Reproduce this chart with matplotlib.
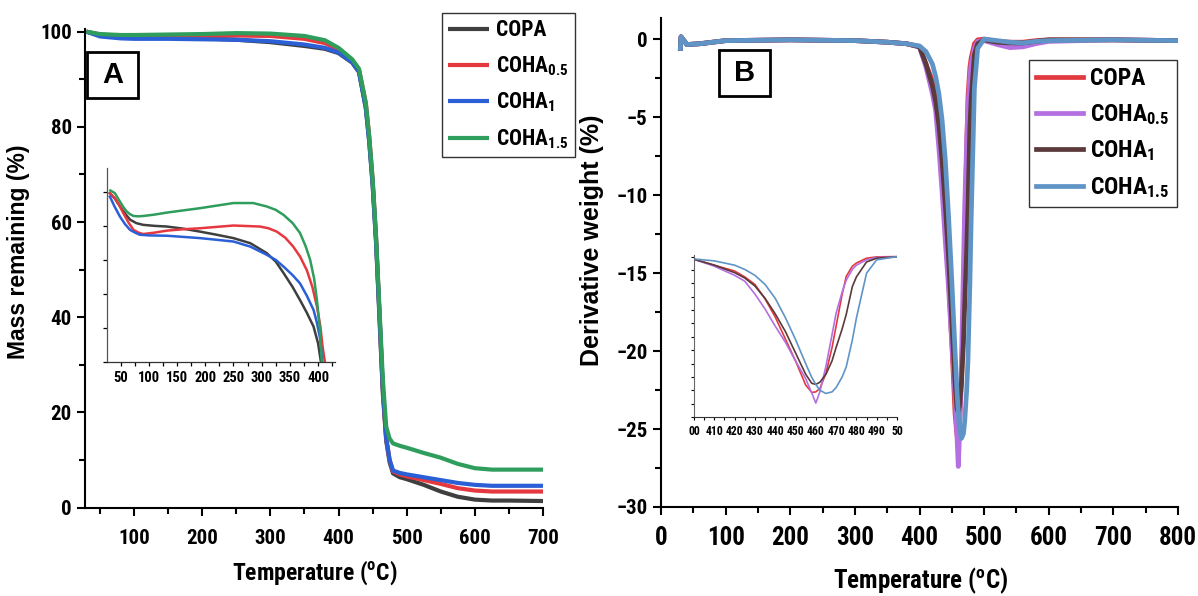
import matplotlib
matplotlib.use("Agg")
import matplotlib.pyplot as plt
from matplotlib import font_manager
from matplotlib.patches import Rectangle
from matplotlib.ticker import MultipleLocator, FixedLocator

names = {f.name for f in font_manager.fontManager.ttflist}
NARROW = next((n for n in ["Liberation Sans Narrow", "Roboto Condensed", "DejaVu Sans"] if n in names), "DejaVu Sans")
WIDE = "Liberation Sans" if "Liberation Sans" in names else "DejaVu Sans"
plt.rcParams["font.family"] = [NARROW, "DejaVu Sans"]
plt.rcParams["font.weight"] = "bold"
plt.rcParams["axes.labelweight"] = "bold"
plt.rcParams["mathtext.fontset"] = "custom"
plt.rcParams["mathtext.rm"] = NARROW + ":bold"
plt.rcParams["mathtext.it"] = NARROW + ":bold"
plt.rcParams["mathtext.bf"] = NARROW + ":bold"

# ---------------- Panel A data: TGA mass remaining ----------------
labels_A = ["COPA", "COHA$_{0.5}$", "COHA$_{1}$", "COHA$_{1.5}$"]
colors_A = ["#3f3f3f", "#e5383f", "#2a5fd6", "#2f9d5c"]
temp_A = [30, 50, 80, 100, 150, 200, 250, 300, 350, 380, 400, 420, 430, 440, 445, 450,
          455, 460, 465, 470, 475, 480, 490, 500, 525, 550, 575, 600, 625, 650, 700]
mass_copa = [100, 99.3, 98.9, 98.8, 98.7, 98.6, 98.3, 97.8, 97.0, 96.4, 95.5, 93.5, 91.5, 84, 77, 68,
             56, 40, 24, 14, 9.5, 7.2, 6.4, 6.0, 4.8, 3.4, 2.3, 1.7, 1.5, 1.5, 1.4]
mass_coha05 = [100, 99.4, 99.1, 99.0, 99.0, 99.1, 99.2, 99.1, 98.5, 97.6, 96.3, 94.0, 92.0, 85, 78, 69,
               57, 41, 25, 14.5, 10, 7.6, 7.0, 6.6, 5.8, 5.0, 4.1, 3.6, 3.4, 3.4, 3.4]
mass_coha1 = [100, 99.0, 98.6, 98.5, 98.5, 98.4, 98.3, 98.0, 97.3, 96.6, 95.6, 93.6, 91.6, 84, 77, 68,
              56, 41, 25, 14.5, 10, 7.8, 7.3, 7.0, 6.4, 5.8, 5.2, 4.8, 4.6, 4.6, 4.6]
mass_coha15 = [100, 99.5, 99.3, 99.3, 99.4, 99.5, 99.7, 99.6, 99.1, 98.2, 96.6, 94.2, 92.2, 85, 78, 69,
               57, 42, 27, 17, 14.5, 13.5, 13.0, 12.6, 11.5, 10.5, 9.2, 8.3, 8.0, 8.0, 8.0]

# inset A (zoom of 30-410 C region)
inA_t_copa = [31, 40, 49, 58, 67, 78, 90, 110, 132, 160, 191, 220, 250, 280, 309, 325, 339, 355, 368, 380, 392, 400, 406]
inA_v_copa = [98.96, 98.8, 98.57, 98.36, 98.18, 98.08, 98.03, 98.0, 97.98, 97.92, 97.83, 97.74, 97.64, 97.49, 97.2,
              96.95, 96.61, 96.2, 95.82, 95.45, 95.04, 94.55, 93.9]
inA_t_coha05 = [31, 40, 48, 55, 64, 73, 82, 90, 110, 132, 161, 191, 250, 297, 312, 327, 342, 356, 368, 380, 390, 398, 404, 408, 413]
inA_v_coha05 = [98.96, 98.81, 98.6, 98.37, 98.1, 97.88, 97.8, 97.76, 97.8, 97.86, 97.9, 97.93, 98.01, 97.98, 97.93, 97.83,
                97.65, 97.39, 97.1, 96.7, 96.2, 95.63, 95.05, 94.45, 93.9]
inA_t_coha1 = [31, 40, 49, 58, 67, 76, 84, 100, 132, 191, 250, 280, 309, 325, 339, 355, 368, 380, 392, 398, 404, 408]
inA_v_coha1 = [98.86, 98.55, 98.27, 98.05, 97.88, 97.8, 97.74, 97.72, 97.71, 97.64, 97.54, 97.39, 97.15, 97.0, 96.8,
               96.55, 96.31, 95.95, 95.53, 95.15, 94.65, 93.9]
inA_t_coha15 = [32, 40, 49, 55, 61, 67, 73, 82, 90, 110, 132, 191, 250, 285, 309, 325, 339, 355, 368, 378, 386, 393, 398, 403, 407]
inA_v_coha15 = [99.04, 98.96, 98.71, 98.55, 98.42, 98.34, 98.29, 98.28, 98.29, 98.33, 98.39, 98.52, 98.67, 98.67, 98.57,
                98.47, 98.32, 98.08, 97.79, 97.4, 97.0, 96.45, 95.82, 95.0, 93.9]

# ---------------- Panel B data: DTG ----------------
labels_B = ["COPA", "COHA$_{0.5}$", "COHA$_{1}$", "COHA$_{1.5}$"]
colors_B = ["#e0393f", "#b470e0", "#5b3a3b", "#5f95c6"]
temp_B = [30, 31, 40, 60, 100, 200, 300, 350, 380,
          400, 410, 420, 425, 430, 435, 440, 445, 450, 455, 458, 460, 462, 465, 468, 470, 473, 475, 478, 480, 485, 490, 500,
          520, 540, 560, 580, 600, 700, 800]
dtg_copa = [-0.6, 0.15, -0.35, -0.3, -0.1, -0.05, -0.1, -0.2, -0.3,
            -0.5, -1.6, -2.7, -3.8, -5.2, -7.9, -11.3, -15.4, -19.5, -24.0, -25.4, -25.3, -24.7, -21.8, -17.0, -13.0, -7.0, -3.7, -1.8, -1.2, -0.3, -0.05, 0.0,
            -0.15, -0.2, -0.2, -0.1, -0.05, -0.05, -0.1]
dtg_coha05 = [-0.6, 0.15, -0.35, -0.3, -0.1, -0.05, -0.1, -0.2, -0.3,
              -0.5, -1.8, -3.5, -4.6, -7.0, -9.8, -13.0, -16.0, -19.5, -22.8, -25.5, -27.4, -25.3, -20.5, -14.6, -10.6, -6.6, -4.4, -2.4, -1.6, -0.6, -0.15, -0.1,
              -0.35, -0.55, -0.5, -0.3, -0.15, -0.05, -0.1]
dtg_coha1 = [-0.6, 0.15, -0.35, -0.3, -0.1, -0.05, -0.1, -0.2, -0.3,
             -0.5, -1.6, -3.0, -4.0, -5.5, -7.8, -10.7, -14.0, -18.0, -22.0, -23.7, -23.9, -23.5, -22.0, -19.5, -17.0, -13.5, -10.8, -5.6, -3.8, -1.0, -0.3, -0.05,
             -0.2, -0.25, -0.25, -0.15, -0.05, -0.05, -0.1]
dtg_coha15 = [-0.6, 0.15, -0.35, -0.3, -0.1, -0.05, -0.1, -0.2, -0.3,
              -0.44, -0.8, -1.6, -2.4, -3.5, -5.2, -7.8, -11.4, -15.5, -20.0, -22.6, -23.9, -25.0, -25.6, -25.3, -24.5, -22.5, -20.6, -15.6, -11.5, -3.1, -0.6, 0.0,
              -0.1, -0.2, -0.25, -0.15, -0.1, -0.05, -0.1]

inB_ticklabels = ["00", "410", "420", "430", "440", "450", "460", "470", "480", "490", "50"]

W, H = 1198, 596
fig = plt.figure(figsize=(W / 100, H / 100), dpi=100)


def fr(x0, y_top, x1, y_bot):
    return [x0 / W, 1 - y_bot / H, (x1 - x0) / W, (y_bot - y_top) / H]


def style(ax, lw=1.5, major=6, minor=4, size=13):
    for s in ["top", "right"]:
        ax.spines[s].set_visible(False)
    for s in ["left", "bottom"]:
        ax.spines[s].set_linewidth(lw)
    ax.tick_params(which="major", direction="out", length=major, width=lw, labelsize=size)
    ax.tick_params(which="minor", direction="out", length=minor, width=lw)
    for lab in ax.get_xticklabels() + ax.get_yticklabels():
        lab.set_fontweight("bold")


# ---- Panel A main
axA = fig.add_axes(fr(85, 29.3, 543, 507.7))
for t, y, c, lab in [(temp_A, mass_copa, colors_A[0], labels_A[0]),
                     (temp_A, mass_coha05, colors_A[1], labels_A[1]),
                     (temp_A, mass_coha1, colors_A[2], labels_A[2]),
                     (temp_A, mass_coha15, colors_A[3], labels_A[3])]:
    axA.plot(t, y, color=c, lw=3, label=lab, solid_capstyle="butt")
axA.set_xlim(28, 700)
axA.set_ylim(0, 100.5)
axA.xaxis.set_major_locator(FixedLocator([100, 200, 300, 400, 500, 600, 700]))
axA.xaxis.set_minor_locator(MultipleLocator(50))
axA.yaxis.set_major_locator(MultipleLocator(20))
axA.yaxis.set_minor_locator(MultipleLocator(10))
style(axA, size=15)
axA.tick_params(axis="x", labelsize=15, pad=9)
fig.text(315 / W, 1 - 573 / H, "Temperature ($^{\\mathrm{o}}$C)", fontsize=17, weight="bold",
         ha="center", va="center")
fig.text(19 / W, 1 - 252 / H, "Mass remaining (%)", rotation=90, fontsize=16.5,
         family=WIDE, weight="bold", ha="center", va="center")
legA = axA.legend(loc="upper left", bbox_to_anchor=(442 / W, 1 - 13 / H), bbox_transform=fig.transFigure,
                  prop={"size": 15.5, "weight": "bold"}, frameon=True, fancybox=False, edgecolor="black",
                  handlelength=1.9, handletextpad=0.3, labelspacing=0.6, borderpad=0.3, borderaxespad=0)
legA.get_frame().set_linewidth(1.0)

# ---- Inset A
inA = fig.add_axes(fr(107, 168, 335, 362))
inA.plot(inA_t_copa, inA_v_copa, color=colors_A[0], lw=1.8)
inA.plot(inA_t_coha05, inA_v_coha05, color=colors_A[1], lw=1.8)
inA.plot(inA_t_coha1, inA_v_coha1, color=colors_A[2], lw=1.8)
inA.plot(inA_t_coha15, inA_v_coha15, color=colors_A[3], lw=1.8)
inA.set_xlim(26, 430)
inA.set_ylim(94, 99.7)
inA.xaxis.set_major_locator(MultipleLocator(50))
inA.xaxis.set_minor_locator(MultipleLocator(25))
inA.yaxis.set_major_locator(MultipleLocator(1))
inA.set_yticklabels([])
inA.patch.set_alpha(0)
style(inA, lw=0.9, major=3, minor=3, size=10.5)
inA.spines["left"].set_color("#555555")
inA.spines["bottom"].set_color("#333333")

# ---- Panel B main
axB = fig.add_axes(fr(661, 18, 1178, 507))
for y, c, lab in [(dtg_copa, colors_B[0], labels_B[0]), (dtg_coha05, colors_B[1], labels_B[1]),
                  (dtg_coha1, colors_B[2], labels_B[2]), (dtg_coha15, colors_B[3], labels_B[3])]:
    axB.plot(temp_B, y, color=c, lw=3.4, label=lab)
axB.set_xlim(0, 800)
axB.set_ylim(-30, 1.35)
axB.xaxis.set_major_locator(MultipleLocator(100))
axB.xaxis.set_minor_locator(MultipleLocator(50))
axB.yaxis.set_major_locator(MultipleLocator(5))
axB.yaxis.set_minor_locator(MultipleLocator(2.5))
style(axB, size=15)
axB.tick_params(axis="x", labelsize=18, pad=8)
fig.text(921 / W, 1 - 581 / H, "Temperature ($^{\\mathrm{o}}$C)", fontsize=18, weight="bold",
         ha="center", va="center")
fig.text(592 / W, 1 - 240 / H, "Derivative weight (%)", rotation=90, fontsize=18,
         family=WIDE, weight="bold", ha="center", va="center")
legB = axB.legend(loc="upper left", bbox_to_anchor=(1029 / W, 1 - 60 / H), bbox_transform=fig.transFigure,
                  prop={"size": 17, "weight": "bold"}, frameon=True, fancybox=False, edgecolor="black",
                  handlelength=2.0, handletextpad=0.3, labelspacing=0.5, borderpad=0.3, borderaxespad=0)
legB.get_frame().set_linewidth(1.0)

# ---- Inset B
inB = fig.add_axes(fr(694, 255, 897, 417))
for y, c in [(dtg_copa, colors_B[0]), (dtg_coha05, colors_B[1]), (dtg_coha1, colors_B[2]), (dtg_coha15, colors_B[3])]:
    inB.plot(temp_B, y, color=c, lw=1.2)
inB.set_xlim(400, 500)
inB.set_ylim(-30, 0.3)
inB.xaxis.set_major_locator(FixedLocator(list(range(400, 501, 10))))
inB.set_xticklabels(inB_ticklabels)
inB.xaxis.set_minor_locator(MultipleLocator(5))
inB.yaxis.set_major_locator(MultipleLocator(2.5))
inB.set_yticklabels([])
inB.patch.set_alpha(0)
style(inB, lw=0.8, major=2.5, minor=2, size=8.5)
inB.spines["left"].set_color("#666666")
inB.spines["bottom"].set_color("#333333")

# ---- panel letter boxes
for (x0, y0, x1, y1, txt) in [(87, 52, 138, 98, "A"), (719, 50, 770, 96, "B")]:
    fig.patches.append(Rectangle((x0 / W, 1 - y1 / H), (x1 - x0) / W, (y1 - y0) / H, transform=fig.transFigure,
                                 fill=True, facecolor="white", edgecolor="black", lw=2, zorder=5))
    fig.text((x0 + x1) / 2 / W, 1 - (y0 + y1) / 2 / H, txt, family=WIDE, weight="bold", fontsize=21,
             ha="center", va="center", zorder=6)

fig.savefig("out.png", dpi=100)
